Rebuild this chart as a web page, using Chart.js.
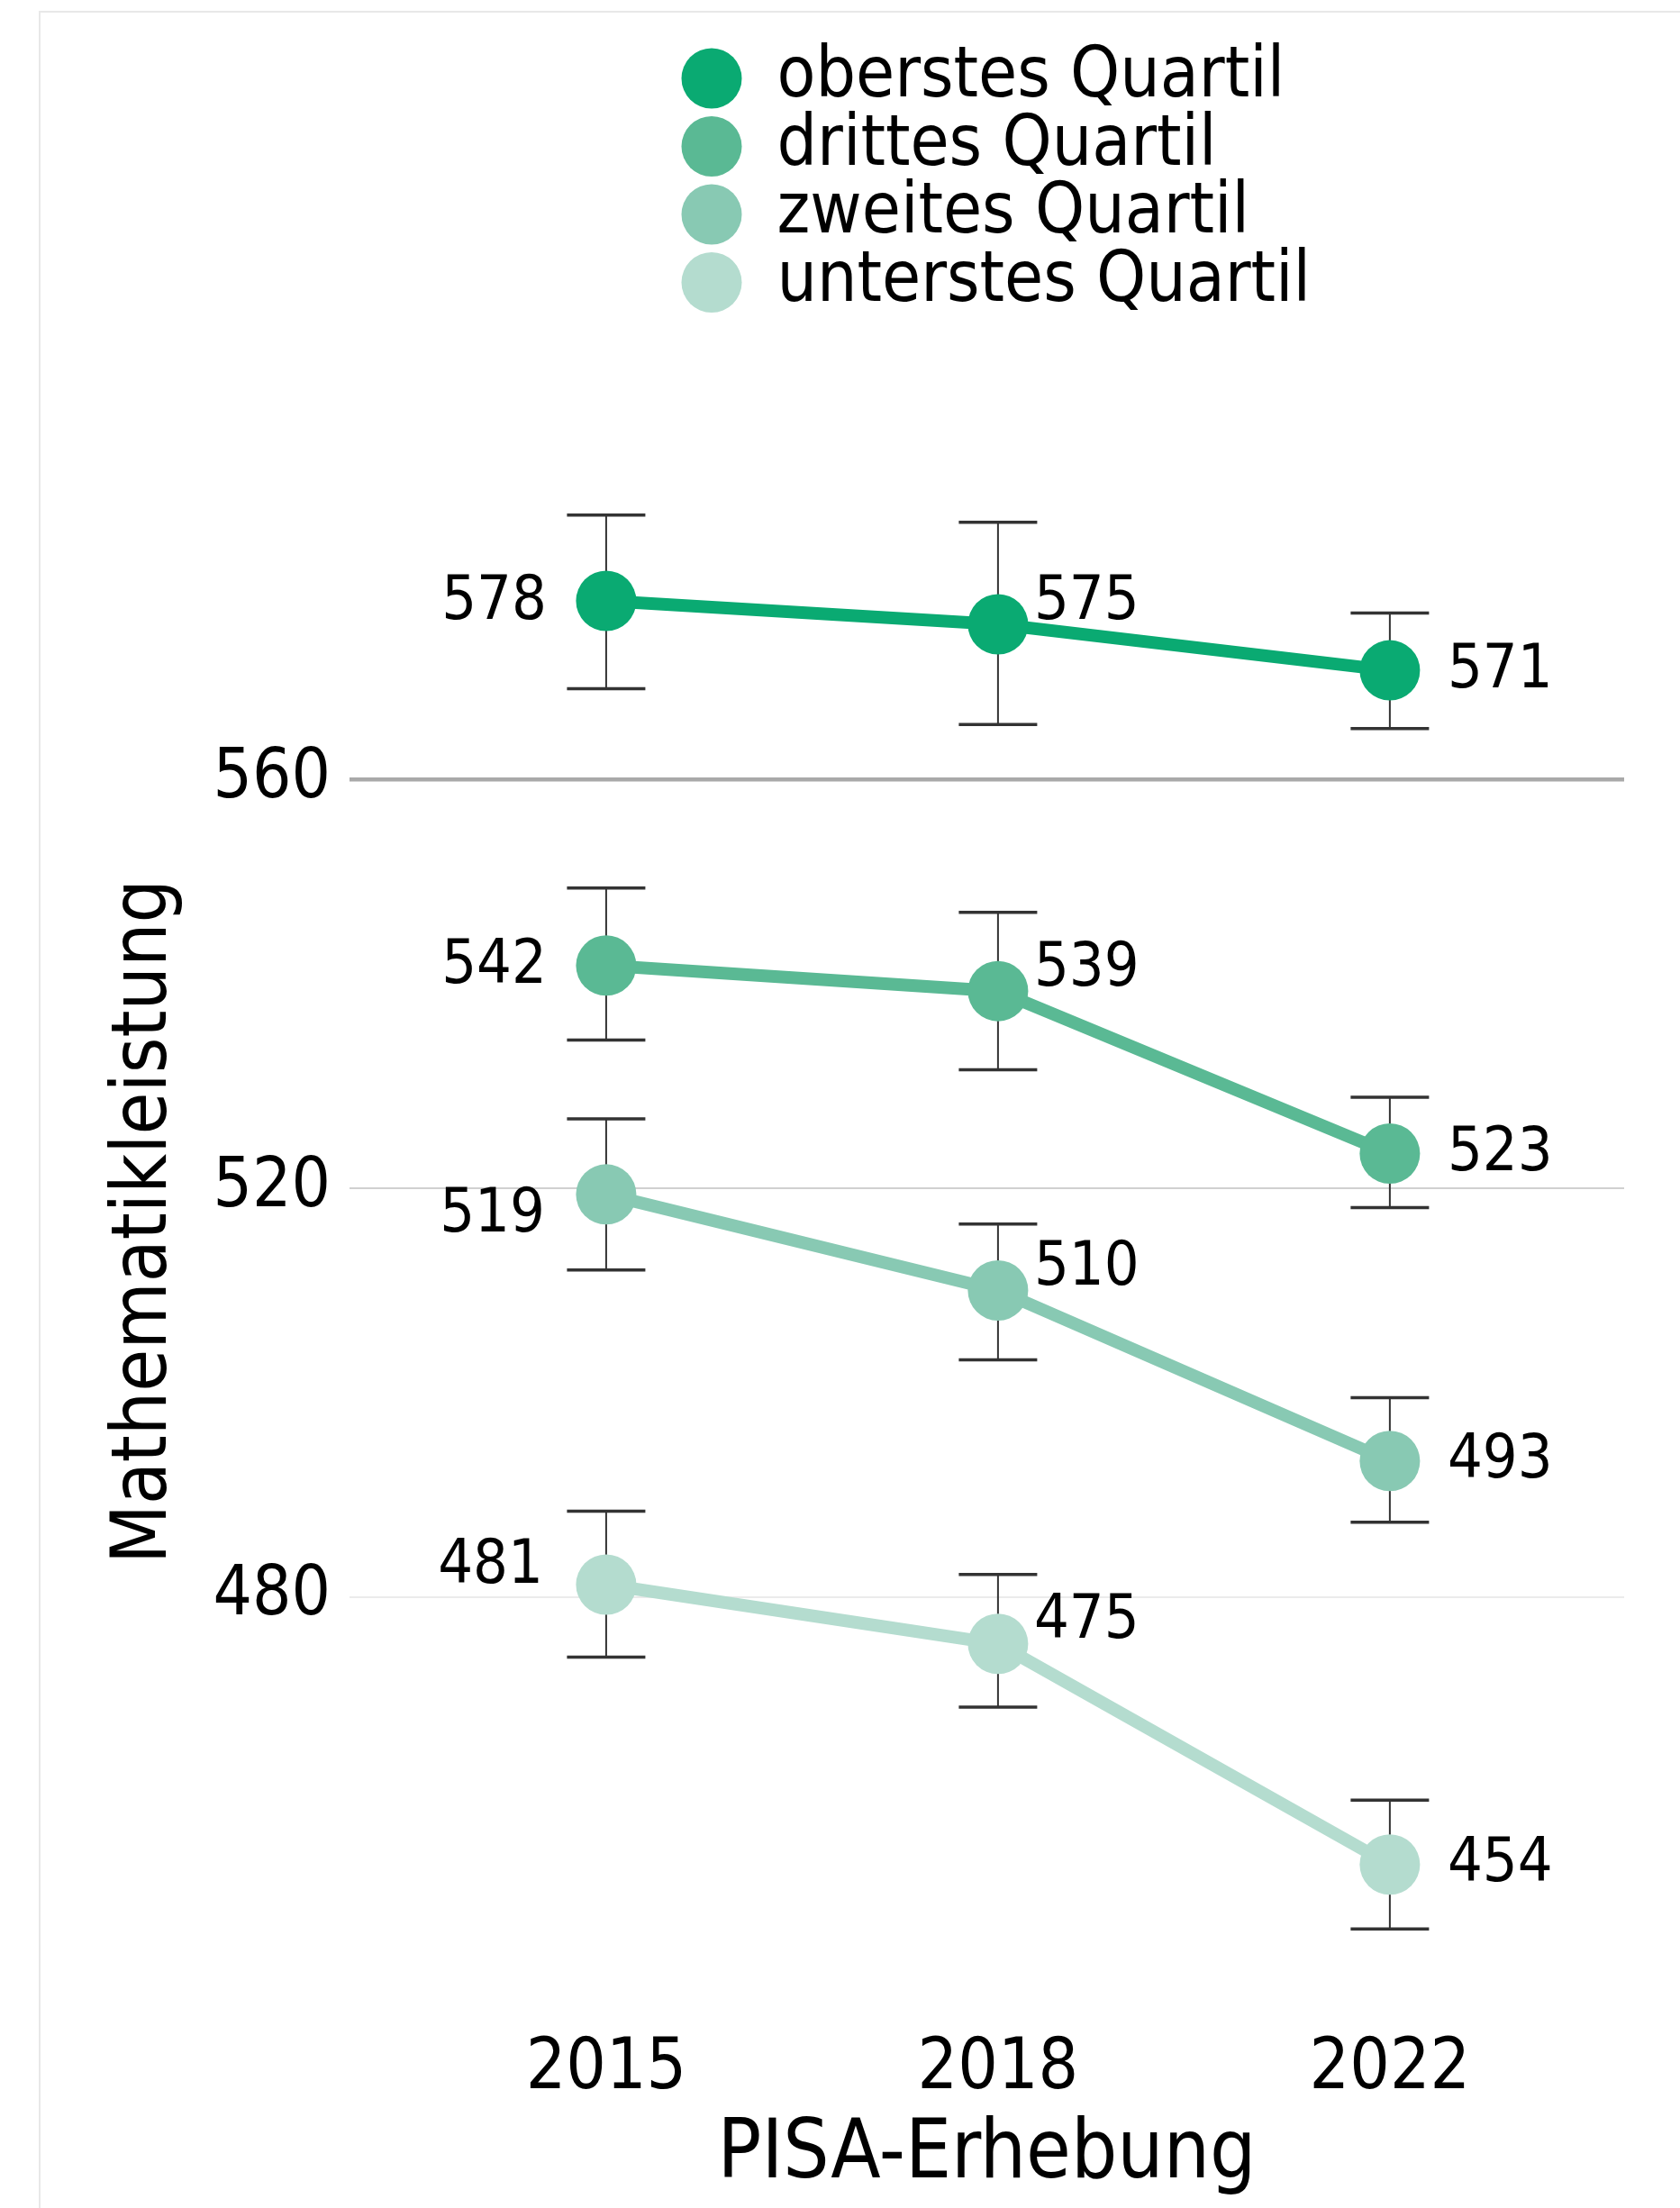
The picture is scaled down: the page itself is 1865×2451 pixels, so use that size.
<!DOCTYPE html>
<html>
<head>
<meta charset="utf-8">
<script src="https://cdn.jsdelivr.net/npm/chart.js@4.4.1/dist/chart.umd.min.js"></script>
<style>
  html, body { margin: 0; padding: 0; background: #ffffff; }
  #wrap { position: relative; width: 1865px; height: 2451px; overflow: hidden; }
  #frame { position: absolute; left: 43px; top: 12px; right: 0; bottom: 0;
           border-left: 2px solid #e8e8e8; border-top: 2px solid #e8e8e8; }
  #c { position: absolute; left: 0; top: 0; }
</style>
</head>
<body>
<div id="wrap">
  <div id="frame"></div>
  <canvas id="c" width="1865" height="2451"></canvas>
</div>
<script>
// ---------- data ----------
const years = ['2015', '2018', '2022'];
const seriesNames = ['oberstes Quartil', 'drittes Quartil', 'zweites Quartil', 'unterstes Quartil'];

const oberstes  = [577.5, 575.2, 570.7];
const drittes   = [541.8, 539.3, 523.4];
const zweites   = [519.4, 510.0, 493.3];
const unterstes = [481.2, 475.4, 453.8];

const oberstesLow   = [568.9, 565.4, 565.0];
const oberstesHigh  = [585.9, 585.2, 576.3];
const drittesLow    = [534.5, 531.6, 518.1];
const drittesHigh   = [549.4, 547.0, 528.9];
const zweitesLow    = [512.0, 503.2, 487.3];
const zweitesHigh   = [526.8, 516.5, 499.5];
const unterstesLow  = [474.1, 469.2, 447.5];
const unterstesHigh = [488.4, 482.2, 460.1];

const yTicks = [480, 520, 560];

// ---------- styles ----------
const FONT = "'DejaVu Sans Condensed', 'DejaVu Sans', sans-serif";
const colors = ['#0aaa72', '#5ab994', '#88c9b3', '#b4dccf'];
const gridColors = ['#ebebeb', '#d0d0d0', '#a9a9a9'];
const gridWidths = [2, 2, 4.5];
const labelPlace = [['L', 'TR', 'R'], ['L', 'TR', 'R'], ['BL', 'TR', 'R'], ['TL', 'TR', 'R']];
const placeStyle = {
  L:  { dx: -66, dy: 2,   align: 'right' },
  BL: { dx: -68, dy: 23,  align: 'right' },
  TL: { dx: -70, dy: -20, align: 'right' },
  TR: { dx: 40,  dy: -24, align: 'left' },
  R:  { dx: 64,  dy: 1,   align: 'left' }
};

const seriesValues = [oberstes, drittes, zweites, unterstes];
const seriesLow = [oberstesLow, drittesLow, zweitesLow, unterstesLow];
const seriesHigh = [oberstesHigh, drittesHigh, zweitesHigh, unterstesHigh];

const datasets = seriesValues.map((vals, d) => ({
  label: seriesNames[d],
  data: vals.map((v, i) => ({ x: i, y: v })),
  borderColor: colors[d],
  backgroundColor: colors[d],
  pointBackgroundColor: colors[d],
  pointBorderWidth: 0,
  pointRadius: 33.5,
  pointHoverRadius: 33.5,
  pointStyle: 'circle',
  borderWidth: 14,
  tension: 0,
  clip: false
}));

const errorBarPlugin = {
  id: 'errorBars',
  beforeDatasetsDraw(chart) {
    const { ctx } = chart;
    const xs = chart.scales.x, ys = chart.scales.y;
    ctx.save();
    ctx.strokeStyle = '#333333';
    seriesLow.forEach((lows, d) => {
      lows.forEach((lo, i) => {
        const hi = seriesHigh[d][i];
        const px = xs.getPixelForValue(i);
        const yl = ys.getPixelForValue(lo);
        const yh = ys.getPixelForValue(hi);
        ctx.lineWidth = 2;
        ctx.beginPath(); ctx.moveTo(px, yh); ctx.lineTo(px, yl); ctx.stroke();
        ctx.lineWidth = 3.5;
        ctx.beginPath();
        ctx.moveTo(px - 43.5, yh); ctx.lineTo(px + 43.5, yh);
        ctx.moveTo(px - 43.5, yl); ctx.lineTo(px + 43.5, yl);
        ctx.stroke();
      });
    });
    ctx.restore();
  }
};

const valueLabelPlugin = {
  id: 'valueLabels',
  afterDatasetsDraw(chart) {
    const { ctx } = chart;
    ctx.save();
    ctx.font = '68px ' + FONT;
    ctx.fillStyle = '#000000';
    ctx.textBaseline = 'middle';
    chart.data.datasets.forEach((ds, d) => {
      const meta = chart.getDatasetMeta(d);
      meta.data.forEach((pt, i) => {
        const st = placeStyle[labelPlace[d][i]];
        ctx.textAlign = st.align;
        ctx.fillText(String(Math.round(ds.data[i].y)), pt.x + st.dx, pt.y + st.dy);
      });
    });
    ctx.restore();
  }
};

const legendPosPlugin = {
  id: 'legendPos',
  afterLayout(chart) {
    const lg = chart.legend;
    if (!lg) return;
    const w = lg.width, h = lg.height;
    lg.left = 759; lg.top = 50.5;
    lg.right = lg.left + w; lg.bottom = lg.top + h;
    if (!lg._noClip) {
      lg._noClip = true;
      lg.draw = function () { if (this.options.display) this._draw(); };
    }
  }
};

new Chart(document.getElementById('c'), {
  type: 'line',
  data: { datasets },
  plugins: [errorBarPlugin, valueLabelPlugin, legendPosPlugin],
  options: {
    responsive: false,
    animation: false,
    events: [],
    layout: { padding: { left: 0, right: 62, top: 492, bottom: 0 } },
    plugins: {
      tooltip: { enabled: false },
      title: { display: false },
      legend: {
        display: true,
        position: 'chartArea',
        align: 'start',
        labels: {
          usePointStyle: true,
          pointStyle: 'circle',
          pointStyleWidth: 67,
          boxHeight: 47.4,
          padding: -2.5,
          color: '#000000',
          font: { family: FONT, size: 78 },
          generateLabels(chart) {
            return Chart.defaults.plugins.legend.labels.generateLabels(chart).map(l =>
              Object.assign(l, { lineWidth: 0, strokeStyle: 'rgba(0,0,0,0)' }));
          }
        }
      }
    },
    scales: {
      x: {
        type: 'linear',
        min: -0.655,
        max: 2.598,
        grid: { display: false },
        border: { display: false },
        afterBuildTicks(s) { s.ticks = years.map((_, i) => ({ value: i })); },
        afterFit(s) { s.height = 231; },
        ticks: {
          callback: (v) => years[v],
          color: '#000000',
          font: { family: FONT, size: 78 },
          padding: 23,
          maxRotation: 0,
          autoSkip: false
        },
        title: {
          display: true,
          text: 'PISA-Erhebung',
          color: '#000000',
          font: { family: FONT, size: 90 },
          padding: { top: 0, bottom: 3 }
        }
      },
      y: {
        type: 'linear',
        min: 440.55,
        max: 592.93,
        afterBuildTicks(s) { s.ticks = yTicks.map(v => ({ value: v })); },
        afterFit(s) { s.width = 388; },
        grid: {
          drawTicks: false,
          color: (c) => gridColors[c.index] || '#ebebeb',
          lineWidth: (c) => gridWidths[c.index] || 2
        },
        border: { display: false },
        ticks: {
          color: '#000000',
          font: { family: FONT, size: 76 },
          padding: 21
        },
        title: {
          display: true,
          text: 'Mathematikleistung',
          color: '#000000',
          font: { family: FONT, size: 85 },
          padding: { top: 110.5, bottom: 0 }
        }
      }
    }
  }
});
</script>
</body>
</html>
